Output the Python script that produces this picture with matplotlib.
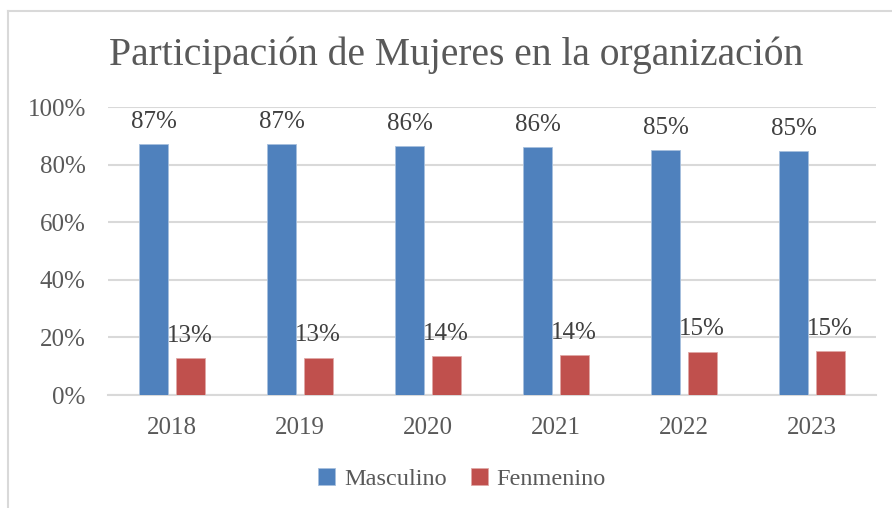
import numpy as np
import matplotlib.pyplot as plt
from matplotlib.lines import Line2D

years = ["2018", "2019", "2020", "2021", "2022", "2023"]
masculino = [87.2, 87.0, 86.4, 86.1, 84.9, 84.8]
femenino = [12.8, 13.0, 13.6, 13.9, 15.1, 15.2]

blue = "#4F81BD"
red = "#C0504D"
txt = "#595959"
grid_c = "#D9D9D9"

plt.rcParams['font.family'] = ['Liberation Serif', 'DejaVu Serif']

W, H = 892, 508
fig = plt.figure(figsize=(W / 100, H / 100), dpi=100)
# plot area in pixels: x 108..876, y 107..395
ax = fig.add_axes([108 / W, 1 - 395 / H, 768 / W, 288 / H])

x = np.arange(len(years))
bw = 0.226
off = 0.141
b1 = ax.bar(x - off, masculino, bw, color=blue, edgecolor="#A7C0DE", linewidth=0.6, label="Masculino", zorder=3)
b2 = ax.bar(x + off, femenino, bw, color=red, edgecolor="#E0A8A6", linewidth=0.6, label="Fenmenino", zorder=3)

for xi, v in zip(x, masculino):
    ax.annotate(f"{v:.0f}%", (xi - off, v), xytext=(0, 16), textcoords="offset points",
                ha="center", va="center", fontsize=18, color="#404040")
for xi, v in zip(x, femenino):
    ax.annotate(f"{v:.0f}%", (xi + off, v), xytext=(0, 16), textcoords="offset points",
                ha="center", va="center", fontsize=18, color="#404040")

ax.set_xlim(-0.5, len(years) - 0.5)
ax.set_ylim(0, 100)
ax.set_yticks(range(0, 101, 20))
ax.set_yticklabels([f"{t}%" for t in range(0, 101, 20)])
ax.set_xticks(x)
ax.set_xticklabels(years)
ax.tick_params(length=0, labelsize=18, labelcolor=txt)
ax.tick_params(axis="y", pad=16)
ax.tick_params(axis="x", pad=16)
ax.yaxis.grid(True, color=grid_c, linewidth=1.5, zorder=0)
for s in ["top", "right", "left"]:
    ax.spines[s].set_visible(False)
ax.spines["bottom"].set_color(grid_c)
ax.spines["bottom"].set_linewidth(1.5)

fig.text(456 / W, 1 - 55 / H, "Participación de Mujeres en la organización",
         ha="center", va="center", fontsize=28.5, color=txt)

fig.legend(handles=[b1, b2], loc="center", bbox_to_anchor=(462 / W, 1 - 479 / H),
           ncol=2, frameon=False, fontsize=17.5, labelcolor=txt, handlelength=0.7,
           handleheight=0.7, handletextpad=0.35, columnspacing=1.0)

# chart border (top and left only visible)
fig.add_artist(Line2D([8 / W, 1], [1 - 10.5 / H, 1 - 10.5 / H], color=grid_c, linewidth=1.5))
fig.add_artist(Line2D([8 / W, 8 / W], [1 - 10.5 / H, 0], color=grid_c, linewidth=1.5))

fig.savefig("out.png", dpi=100)
